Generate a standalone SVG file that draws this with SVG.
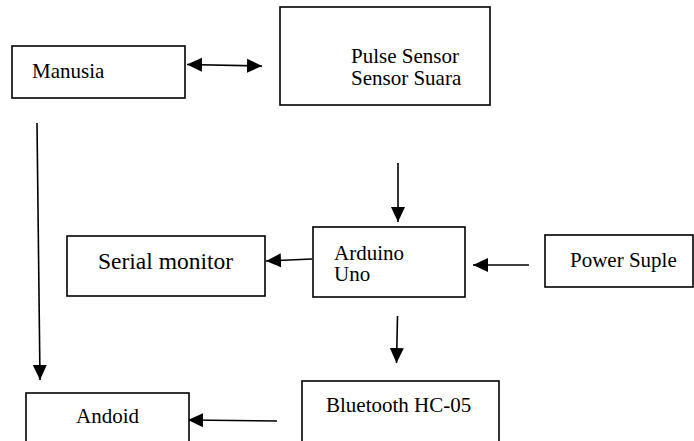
<svg xmlns="http://www.w3.org/2000/svg" width="694" height="441" viewBox="0 0 694 441">
<defs>
<style>
.box{fill:#fff;stroke:#000;stroke-width:1.6}
text{font-family:'Liberation Serif','Times New Roman','DejaVu Serif',serif;font-size:21px;fill:#000}
.big{font-size:23.5px}
.c{stroke:#000;stroke-width:1.6;fill:none}
</style>
<marker id="ah" markerUnits="userSpaceOnUse" markerWidth="16" markerHeight="16" viewBox="0 0 16 16" refX="15" refY="8" orient="auto">
<path d="M0,1 L15,8 L0,15 Z" fill="#000"/>
</marker>
<marker id="as" markerUnits="userSpaceOnUse" markerWidth="16" markerHeight="16" viewBox="0 0 16 16" refX="15" refY="8" orient="auto-start-reverse">
<path d="M0,1 L15,8 L0,15 Z" fill="#000"/>
</marker>
</defs>
<rect width="694" height="441" fill="#fff"/>
<g id="connectors">
<line class="c" x1="187" y1="64.5" x2="262" y2="66" marker-start="url(#as)" marker-end="url(#as)"/>
<line class="c" x1="37" y1="123" x2="40" y2="380" marker-end="url(#ah)"/>
<line class="c" x1="398" y1="163" x2="398" y2="222" marker-end="url(#ah)"/>
<line class="c" x1="312" y1="259" x2="266" y2="261" marker-end="url(#ah)"/>
<line class="c" x1="529" y1="265" x2="473" y2="265" marker-end="url(#ah)"/>
<line class="c" x1="397.5" y1="316" x2="396.5" y2="363" marker-end="url(#ah)"/>
<line class="c" x1="277" y1="421" x2="188" y2="420" marker-end="url(#ah)"/>
</g>
<g id="manusia">
<rect class="box" x="12" y="46" width="173" height="52"/>
<text x="32" y="78" font-family="Liberation Serif, serif">Manusia</text>
</g>
<g id="sensor">
<rect class="box" x="280" y="7" width="210" height="98"/>
<text x="351" y="63" font-family="Liberation Serif, serif">Pulse Sensor</text>
<text x="351" y="85" font-family="Liberation Serif, serif">Sensor Suara</text>
</g>
<g id="serial">
<rect class="box" x="67" y="236" width="198" height="60"/>
<text class="big" x="98" y="269" font-family="Liberation Serif, serif">Serial monitor</text>
</g>
<g id="arduino">
<rect class="box" x="313" y="227" width="152" height="70"/>
<text x="334" y="260" font-family="Liberation Serif, serif">Arduino</text>
<text x="334" y="281" font-family="Liberation Serif, serif">Uno</text>
</g>
<g id="power">
<rect class="box" x="545" y="235" width="148" height="52"/>
<text x="570" y="267" font-family="Liberation Serif, serif">Power Suple</text>
</g>
<g id="bluetooth">
<rect class="box" x="302" y="381" width="197" height="70"/>
<text x="326" y="412" font-family="Liberation Serif, serif">Bluetooth HC-05</text>
</g>
<g id="andoid">
<rect class="box" x="26" y="393" width="163" height="60"/>
<text x="76" y="423" font-family="Liberation Serif, serif">Andoid</text>
</g>
</svg>
